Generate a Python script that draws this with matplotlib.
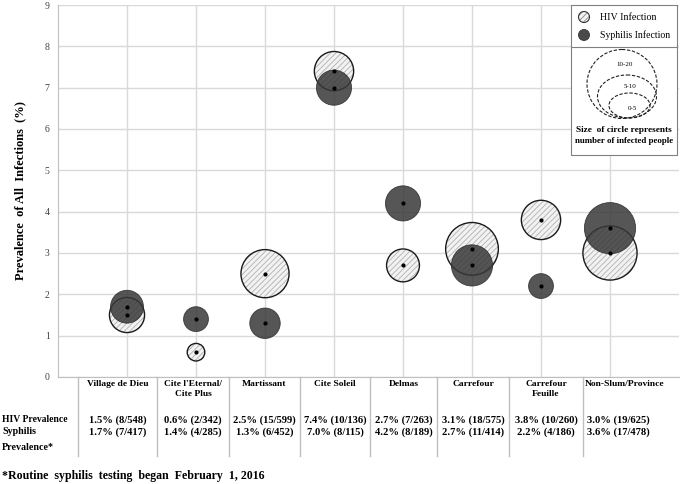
import matplotlib
matplotlib.use("Agg")
import matplotlib.pyplot as plt
from matplotlib.patches import Circle, Ellipse, Rectangle
from matplotlib.lines import Line2D

plt.rcParams['font.family'] = ['Liberation Serif', 'DejaVu Serif']
plt.rcParams['hatch.linewidth'] = 0.6

# ---------------- data ----------------
categories = ["Village de Dieu", "Cite l'Eternal/\nCite Plus", "Martissant", "Cite Soleil",
              "Delmas", "Carrefour", "Carrefour\nFeuille", "Non-Slum/Province"]
hiv_prev = [1.5, 0.6, 2.5, 7.4, 2.7, 3.1, 3.8, 3.0]
hiv_n = [8, 2, 15, 10, 7, 18, 10, 19]
hiv_total = [548, 342, 599, 136, 263, 575, 260, 625]
syph_prev = [1.7, 1.4, 1.3, 7.0, 4.2, 2.7, 2.2, 3.6]
syph_n = [7, 4, 6, 8, 8, 11, 4, 17]
syph_total = [417, 285, 452, 115, 189, 414, 186, 478]
yticks = [0, 1, 2, 3, 4, 5, 6, 7, 8, 9]
size_bins = ["10-20", "5-10", "0-5"]

W, H = 680, 484
fig = plt.figure(figsize=(W / 100, H / 100), dpi=100)
fig.patch.set_facecolor('white')

ax = fig.add_axes([58 / W, 1 - 377 / H, 621 / W, 372 / H])
x = list(range(len(categories)))
SCALE = 80  # area (pt^2) per infected person

ax.scatter(x, hiv_prev, s=[SCALE * n for n in hiv_n], facecolor='#f2f2f2',
           edgecolors='#b0b0b0', linewidths=0, hatch='//////', zorder=3)
ax.scatter(x, hiv_prev, s=[SCALE * n for n in hiv_n], facecolor='none',
           edgecolors='#1a1a1a', linewidths=1.0, zorder=4)
ax.scatter(x, syph_prev, s=[SCALE * n for n in syph_n], facecolor='#383838',
           edgecolors='#2a2a2a', linewidths=0.6, alpha=0.85, zorder=5)
ax.scatter(x + x, hiv_prev + syph_prev, s=4, color='black', zorder=6)

ax.set_xlim(-1, len(categories))
ax.set_ylim(0, 9)
ax.set_yticks(yticks)
ax.set_yticklabels([str(t) for t in yticks], fontsize=7, color='#404040')
ax.set_xticks(x)
ax.set_xticklabels([])
ax.tick_params(length=0, pad=6)
ax.grid(True, color='#d9d9d9', lw=1)
ax.set_axisbelow(True)
for s in ['top', 'right']:
    ax.spines[s].set_visible(False)
for s in ['left', 'bottom']:
    ax.spines[s].set_color('#bfbfbf')
ax.set_ylabel("Prevalence  of All  Infections  (%)", fontsize=9.0, fontweight='bold',
              labelpad=13)

# ---------------- overlay (pixel coords) ----------------
ov = fig.add_axes([0, 0, 1, 1])
ov.set_xlim(0, W)
ov.set_ylim(H, 0)
ov.axis('off')
ov.patch.set_alpha(0)

# table
seps = [78, 157, 229, 300, 370, 437, 509, 583, 680]
for sx in seps[:-1]:
    ov.add_line(Line2D([sx, sx], [377, 456], color='#bfbfbf', lw=1))
fs_h = 6.8
fs_v = 7.6
for i, cat in enumerate(categories):
    cx = (seps[i] + seps[i + 1]) / 2
    if i == len(categories) - 1:
        cx = 625
    ov.text(cx, 380, cat, ha='center', va='top', fontsize=fs_h, fontweight='bold',
            linespacing=1.3)
    vx = cx if i < len(categories) - 1 else 618
    ov.text(vx, 420, f"{hiv_prev[i]:.1f}% ({hiv_n[i]}/{hiv_total[i]})", ha='center',
            va='center', fontsize=fs_v, fontweight='bold')
    ov.text(vx, 432, f"{syph_prev[i]:.1f}% ({syph_n[i]}/{syph_total[i]})", ha='center',
            va='center', fontsize=fs_v, fontweight='bold')
ov.text(2, 420, "HIV Prevalence", ha='left', va='center', fontsize=6.9, fontweight='bold')
ov.text(2, 432, "Syphilis", ha='left', va='center', fontsize=7.2, fontweight='bold')
ov.text(2, 448, "Prevalence*", ha='left', va='center', fontsize=7.2, fontweight='bold')
ov.text(2, 476, "*Routine  syphilis  testing  began  February  1, 2016", ha='left',
        va='center', fontsize=8.6, fontweight='bold')

# legend box
ov.add_patch(Rectangle((571, 5), 106, 150, facecolor='white', edgecolor='#808080', lw=0.8,
                       zorder=5))
ov.add_line(Line2D([571, 677], [47, 47], color='#808080', lw=0.8, zorder=6))
ov.add_patch(Circle((584, 17), 5.5, facecolor='#f2f2f2', edgecolor='#888888', lw=0,
                    hatch='//////', zorder=6))
ov.add_patch(Circle((584, 17), 5.5, facecolor='none', edgecolor='#333333', lw=0.8, zorder=7))
ov.add_patch(Circle((584, 35), 5.5, facecolor='#4a4a4a', edgecolor='#333333', lw=0.6,
                    zorder=6))
ov.text(600, 17, "HIV Infection", ha='left', va='center', fontsize=7.2, zorder=7)
ov.text(600, 35, "Syphilis Infection", ha='left', va='center', fontsize=7.0, zorder=7)

ells = [(622, 84, 70, 69), (627, 96.5, 59, 43), (629.5, 105.5, 41, 25)]
lab_y = [64, 86, 108]
for (cx, cy, ew, eh), lab, ly in zip(ells, size_bins, lab_y):
    ov.add_patch(Ellipse((cx, cy), ew, eh, fill=False, ls=(0, (3, 1.5)), lw=0.8,
                         edgecolor='#222222', zorder=6))
    ov.text(cx + 3 if lab != "10-20" else 625, ly, lab, ha='center', va='center',
            fontsize=5.0, zorder=7)
ov.text(624, 130, "Size  of circle represents", ha='center', va='center', fontsize=6.7,
        fontweight='bold', zorder=7)
ov.text(624, 141, "number of infected people", ha='center', va='center', fontsize=6.4,
        fontweight='bold', zorder=7)

fig.savefig("out.png", dpi=100)
